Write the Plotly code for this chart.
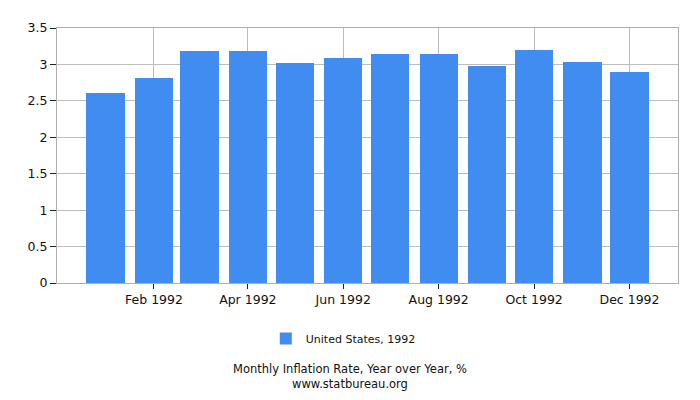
import plotly.graph_objects as go

# monthly year-over-year inflation, United States 1992
months = ['1992-01-01', '1992-02-01', '1992-03-01', '1992-04-01', '1992-05-01', '1992-06-01',
          '1992-07-01', '1992-08-01', '1992-09-01', '1992-10-01', '1992-11-01', '1992-12-01']
values = [2.61, 2.82, 3.18, 3.18, 3.02, 3.09, 3.15, 3.14, 2.98, 3.20, 3.04, 2.90]
tick_dates = ['1992-02-01', '1992-04-01', '1992-06-01', '1992-08-01', '1992-10-01', '1992-12-01']
tick_labels = ['Feb 1992', 'Apr 1992', 'Jun 1992', 'Aug 1992', 'Oct 1992', 'Dec 1992']
y_ticks = [0, 0.5, 1, 1.5, 2, 2.5, 3, 3.5]

bar_width = 24.5 * 24 * 3600 * 1000  # ms

fig = go.Figure(
    go.Bar(
        x=months,
        y=values,
        width=[bar_width] * len(months),
        marker=dict(color='#418cf0', line=dict(width=0)),
        name='United States, 1992',
    )
)

fig.update_xaxes(
    type='date',
    range=['1991-12-01', '1993-01-01'],
    tickvals=tick_dates,
    ticktext=tick_labels,
    showgrid=True, gridcolor='#bdbdbd', gridwidth=1,
    showline=True, linecolor='#b0b0b0', linewidth=1, mirror=True,
    ticks='outside', ticklen=5, tickcolor='#222',
    tickfont=dict(size=12.5, color='#111'),
)
fig.update_yaxes(
    range=[0, 3.5],
    tickvals=y_ticks,
    ticktext=[f'{v:g}' for v in y_ticks],
    showgrid=True, gridcolor='#bdbdbd', gridwidth=1,
    showline=True, linecolor='#b0b0b0', linewidth=1, mirror=True,
    ticks='outside', ticklen=6, tickcolor='#222',
    tickfont=dict(size=12.5, color='#111'),
    zeroline=False,
)

# page body has an 8px margin, so the figure is sized/offset to compensate
fig.update_layout(
    width=692, height=392,
    margin=dict(l=49, r=22, t=14, b=117),
    plot_bgcolor='white', paper_bgcolor='white',
    font=dict(family='DejaVu Sans', size=11, color='#111'),
    showlegend=True,
    legend=dict(orientation='h', x=0.461, xanchor='center', y=-0.218, yanchor='middle',
                font=dict(size=11)),
    annotations=[
        dict(text='Monthly Inflation Rate, Year over Year, %<br>www.statbureau.org',
             x=0.472, xref='paper', y=-0.366, yref='paper', yanchor='middle',
             showarrow=False, borderpad=0, font=dict(size=11.5, color='#111')),
    ],
    bargap=0,
)

fig.write_html('out.html')
